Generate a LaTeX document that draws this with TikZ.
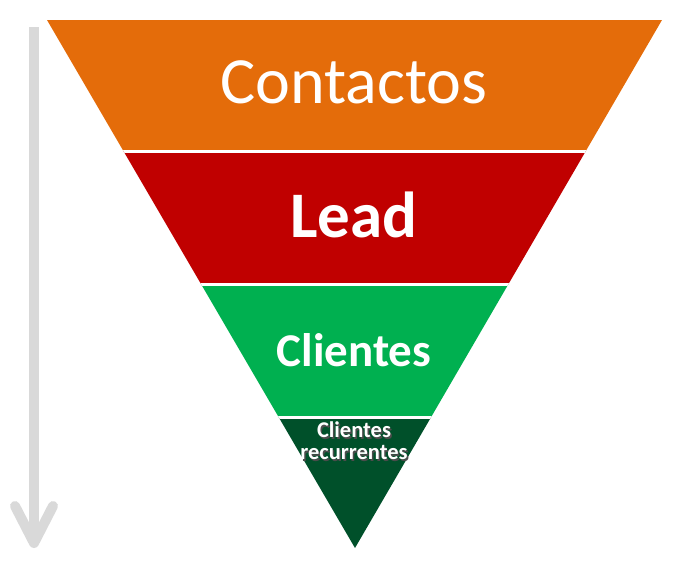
\documentclass[tikz,border=0pt]{standalone}
\usepackage{fontspec}
\setmainfont{Carlito}
\definecolor{orangeC}{HTML}{E46C0A}
\definecolor{redL}{HTML}{C00000}
\definecolor{greenC}{HTML}{00B050}
\definecolor{greenR}{HTML}{00502A}
\definecolor{arrowgray}{HTML}{D9D9D9}
\tikzset{
  band/.style={fill=#1, draw=none},
  gap/.style={draw=white, line width=3pt},
  label/.style={text=white, align=center, inner sep=0pt},
}
\begin{document}
\begin{tikzpicture}[x=1pt,y=-1pt]
  \useasboundingbox (0,0) rectangle (677,584);
  % funnel corners
  \coordinate (TL) at (47,20);
  \coordinate (TR) at (662,20);
  \coordinate (Apex) at (355,548);
  \begin{scope}
    \clip (TL) -- (TR) -- (Apex) -- cycle;
    \fill[band=orangeC] (0,20) rectangle (677,151);
    \fill[band=redL] (0,151) rectangle (677,284);
    \fill[band=greenC] (0,284) rectangle (677,417);
    \fill[band=greenR] (0,417) rectangle (677,548);
    \draw[gap] (0,151) -- (677,151);
    \draw[gap] (0,284) -- (677,284);
    \draw[gap] (0,417) -- (677,417);
  \end{scope}
  % labels
  \node[label, font=\fontsize{66}{72}\selectfont] (contactos) at (354,82) {Contactos};
  \node[label, font=\fontsize{65}{70}\bfseries] (lead) at (354,215) {Lead};
  \node[label, font=\fontsize{47}{52}\bfseries] (clientes) at (354,350) {Clientes};
  \node[text=black!70, align=center, inner sep=0pt, font=\fontsize{22.5}{22}\bfseries\selectfont] at (355.5,442.5) {Clientes\\recurrentes};
  \node[label, font=\fontsize{22.5}{22}\bfseries\selectfont] (recurrentes) at (354,441) {Clientes\\recurrentes};
  % direction arrow
  \coordinate (arrowtop) at (34,27);
  \coordinate (arrowend) at (34,543);
  \draw[arrowgray, line width=10pt] (arrowtop) -- (arrowend);
  \draw[arrowgray, line width=10pt, line cap=round, line join=round]
    (15,506) -- (arrowend) -- (53,506);
\end{tikzpicture}
\end{document}
